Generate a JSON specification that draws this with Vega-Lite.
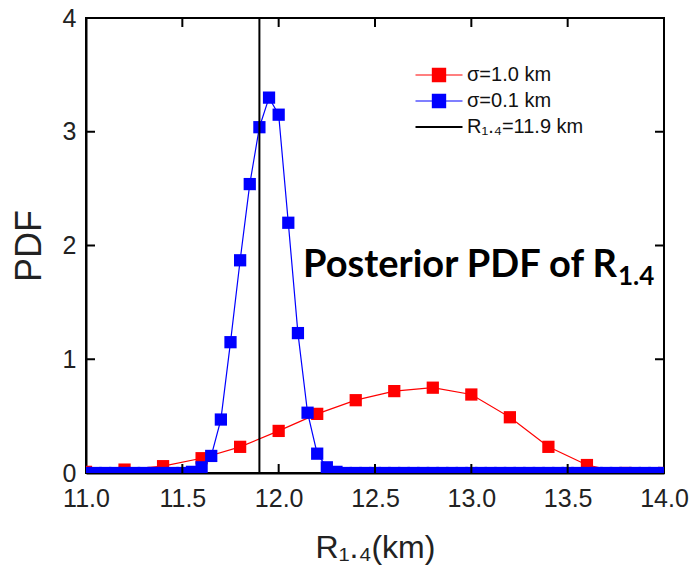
{
  "$schema": "https://vega.github.io/schema/vega-lite/v6.json",
  "width": 578,
  "height": 455,
  "autosize": {"type": "none"},
  "padding": {"left": 86, "top": 18, "right": 28, "bottom": 104},
  "background": "white",
  "config": {
    "font": "Liberation Sans",
    "view": {"stroke": "black", "strokeWidth": 2},
    "axis": {
      "grid": false,
      "ticks": false,
      "zindex": 2,
      "domainColor": "black",
      "domainWidth": 2,
      "labelColor": "#222222",
      "labelFontSize": 25,
      "labelFont": "Liberation Sans",
      "labelFlush": false,
      "titleFont": "Liberation Sans",
      "titleFontWeight": "normal",
      "titleColor": "#222222"
    },
    "axisX": {"labelPadding": 13, "titleFontSize": 32, "titlePadding": 21},
    "axisY": {"labelPadding": 10, "titleFontSize": 36, "titlePadding": 14},
    "legend": {
      "orient": "none",
      "legendX": 343,
      "legendY": 47,
      "title": null,
      "labelFontSize": 20,
      "labelFont": "Liberation Sans",
      "labelColor": "#111111",
      "symbolSize": 2209,
      "rowPadding": 6,
      "labelOffset": 18
    }
  },
  "datasets": {
    "red": [
      {"x": 11.0, "y": 0.01, "s": "σ=1.0 km"},
      {"x": 11.2, "y": 0.03, "s": "σ=1.0 km"},
      {"x": 11.4, "y": 0.06, "s": "σ=1.0 km"},
      {"x": 11.6, "y": 0.13, "s": "σ=1.0 km"},
      {"x": 11.8, "y": 0.23, "s": "σ=1.0 km"},
      {"x": 12.0, "y": 0.37, "s": "σ=1.0 km"},
      {"x": 12.2, "y": 0.52, "s": "σ=1.0 km"},
      {"x": 12.4, "y": 0.64, "s": "σ=1.0 km"},
      {"x": 12.6, "y": 0.72, "s": "σ=1.0 km"},
      {"x": 12.8, "y": 0.75, "s": "σ=1.0 km"},
      {"x": 13.0, "y": 0.69, "s": "σ=1.0 km"},
      {"x": 13.2, "y": 0.49, "s": "σ=1.0 km"},
      {"x": 13.4, "y": 0.23, "s": "σ=1.0 km"},
      {"x": 13.6, "y": 0.07, "s": "σ=1.0 km"},
      {"x": 13.8, "y": 0.0, "s": "σ=1.0 km"},
      {"x": 14.0, "y": 0.0, "s": "σ=1.0 km"}
    ],
    "blue": [
      {"x": 11.0, "y": 0, "s": "σ=0.1 km"},
      {"x": 11.05, "y": 0, "s": "σ=0.1 km"},
      {"x": 11.1, "y": 0, "s": "σ=0.1 km"},
      {"x": 11.15, "y": 0, "s": "σ=0.1 km"},
      {"x": 11.2, "y": 0, "s": "σ=0.1 km"},
      {"x": 11.25, "y": 0, "s": "σ=0.1 km"},
      {"x": 11.3, "y": 0, "s": "σ=0.1 km"},
      {"x": 11.35, "y": 0, "s": "σ=0.1 km"},
      {"x": 11.4, "y": 0, "s": "σ=0.1 km"},
      {"x": 11.45, "y": 0, "s": "σ=0.1 km"},
      {"x": 11.5, "y": 0, "s": "σ=0.1 km"},
      {"x": 11.55, "y": 0.01, "s": "σ=0.1 km"},
      {"x": 11.6, "y": 0.05, "s": "σ=0.1 km"},
      {"x": 11.65, "y": 0.15, "s": "σ=0.1 km"},
      {"x": 11.7, "y": 0.47, "s": "σ=0.1 km"},
      {"x": 11.75, "y": 1.15, "s": "σ=0.1 km"},
      {"x": 11.8, "y": 1.87, "s": "σ=0.1 km"},
      {"x": 11.85, "y": 2.54, "s": "σ=0.1 km"},
      {"x": 11.9, "y": 3.04, "s": "σ=0.1 km"},
      {"x": 11.95, "y": 3.3, "s": "σ=0.1 km"},
      {"x": 12.0, "y": 3.15, "s": "σ=0.1 km"},
      {"x": 12.05, "y": 2.2, "s": "σ=0.1 km"},
      {"x": 12.1, "y": 1.23, "s": "σ=0.1 km"},
      {"x": 12.15, "y": 0.53, "s": "σ=0.1 km"},
      {"x": 12.2, "y": 0.17, "s": "σ=0.1 km"},
      {"x": 12.25, "y": 0.05, "s": "σ=0.1 km"},
      {"x": 12.3, "y": 0.01, "s": "σ=0.1 km"},
      {"x": 12.35, "y": 0, "s": "σ=0.1 km"},
      {"x": 12.4, "y": 0, "s": "σ=0.1 km"},
      {"x": 12.45, "y": 0, "s": "σ=0.1 km"},
      {"x": 12.5, "y": 0, "s": "σ=0.1 km"},
      {"x": 12.55, "y": 0, "s": "σ=0.1 km"},
      {"x": 12.6, "y": 0, "s": "σ=0.1 km"},
      {"x": 12.65, "y": 0, "s": "σ=0.1 km"},
      {"x": 12.7, "y": 0, "s": "σ=0.1 km"},
      {"x": 12.75, "y": 0, "s": "σ=0.1 km"},
      {"x": 12.8, "y": 0, "s": "σ=0.1 km"},
      {"x": 12.85, "y": 0, "s": "σ=0.1 km"},
      {"x": 12.9, "y": 0, "s": "σ=0.1 km"},
      {"x": 12.95, "y": 0, "s": "σ=0.1 km"},
      {"x": 13.0, "y": 0, "s": "σ=0.1 km"},
      {"x": 13.05, "y": 0, "s": "σ=0.1 km"},
      {"x": 13.1, "y": 0, "s": "σ=0.1 km"},
      {"x": 13.15, "y": 0, "s": "σ=0.1 km"},
      {"x": 13.2, "y": 0, "s": "σ=0.1 km"},
      {"x": 13.25, "y": 0, "s": "σ=0.1 km"},
      {"x": 13.3, "y": 0, "s": "σ=0.1 km"},
      {"x": 13.35, "y": 0, "s": "σ=0.1 km"},
      {"x": 13.4, "y": 0, "s": "σ=0.1 km"},
      {"x": 13.45, "y": 0, "s": "σ=0.1 km"},
      {"x": 13.5, "y": 0, "s": "σ=0.1 km"},
      {"x": 13.55, "y": 0, "s": "σ=0.1 km"},
      {"x": 13.6, "y": 0, "s": "σ=0.1 km"},
      {"x": 13.65, "y": 0, "s": "σ=0.1 km"},
      {"x": 13.7, "y": 0, "s": "σ=0.1 km"},
      {"x": 13.75, "y": 0, "s": "σ=0.1 km"},
      {"x": 13.8, "y": 0, "s": "σ=0.1 km"},
      {"x": 13.85, "y": 0, "s": "σ=0.1 km"},
      {"x": 13.9, "y": 0, "s": "σ=0.1 km"},
      {"x": 13.95, "y": 0, "s": "σ=0.1 km"},
      {"x": 14.0, "y": 0, "s": "σ=0.1 km"}
    ],
    "ref": [{"x": 11.9, "s": "R₁.₄=11.9 km"}],
    "xticks": [
      {"x": 11.5, "y": 0}, {"x": 12.0, "y": 0}, {"x": 12.5, "y": 0}, {"x": 13.0, "y": 0}, {"x": 13.5, "y": 0},
      {"x": 11.5, "y": 4}, {"x": 12.0, "y": 4}, {"x": 12.5, "y": 4}, {"x": 13.0, "y": 4}, {"x": 13.5, "y": 4}
    ],
    "yticks": [
      {"x": 11, "y": 1}, {"x": 11, "y": 2}, {"x": 11, "y": 3},
      {"x": 14, "y": 1}, {"x": 14, "y": 2}, {"x": 14, "y": 3}
    ],
    "note": [{"x": 13.756, "y": 1.723, "t": "Posterior PDF of R", "sub": "1.4"}]
  },
  "layer": [
    {
      "data": {"name": "red"},
      "mark": {"type": "line", "strokeWidth": 1.2, "clip": true},
      "encoding": {
        "x": {"field": "x", "type": "quantitative", "title": "R₁.₄(km)", "scale": {"domain": [11, 14], "nice": false, "zero": false}, "axis": {"values": [11, 11.5, 12, 12.5, 13, 13.5, 14], "format": ".1f"}},
        "y": {"field": "y", "type": "quantitative", "title": "PDF", "scale": {"domain": [0, 4], "nice": false}, "axis": {"values": [0, 1, 2, 3, 4], "format": "d"}},
        "color": {
          "field": "s",
          "type": "nominal",
          "scale": {"domain": ["σ=1.0 km", "σ=0.1 km", "R₁.₄=11.9 km"], "range": ["#ff0000", "#0000ff", "#000000"]},
          "legend": {
            "encode": {
              "symbols": {
                "update": {
                  "shape": {"signal": "datum.value == 'R₁.₄=11.9 km' ? 'M-1,0H1' : 'M-1,0H1M-0.28,-0.28H0.28V0.28H-0.28Z'"},
                  "strokeWidth": {"signal": "datum.value == 'R₁.₄=11.9 km' ? 2 : 1.2"},
                  "size": {"value": 2209},
                  "fill": {"scale": "color", "field": "value"},
                  "stroke": {"scale": "color", "field": "value"},
                  "opacity": {"value": 1},
                  "fillOpacity": {"value": 1}
                }
              }
            }
          }
        }
      }
    },
    {
      "data": {"name": "red"},
      "mark": {"type": "point", "shape": "square", "filled": true, "size": 150, "opacity": 1, "clip": true},
      "encoding": {
        "x": {"field": "x", "type": "quantitative", "title": "R₁.₄(km)", "scale": {"domain": [11, 14], "nice": false, "zero": false}},
        "y": {"field": "y", "type": "quantitative", "title": "PDF", "scale": {"domain": [0, 4], "nice": false}},
        "color": {"field": "s", "type": "nominal", "scale": {"domain": ["σ=1.0 km", "σ=0.1 km", "R₁.₄=11.9 km"], "range": ["#ff0000", "#0000ff", "#000000"]}}
      }
    },
    {
      "data": {"name": "blue"},
      "mark": {"type": "line", "strokeWidth": 1.2, "clip": true},
      "encoding": {
        "x": {"field": "x", "type": "quantitative", "title": "R₁.₄(km)", "scale": {"domain": [11, 14], "nice": false, "zero": false}},
        "y": {"field": "y", "type": "quantitative", "title": "PDF", "scale": {"domain": [0, 4], "nice": false}},
        "color": {"field": "s", "type": "nominal", "scale": {"domain": ["σ=1.0 km", "σ=0.1 km", "R₁.₄=11.9 km"], "range": ["#ff0000", "#0000ff", "#000000"]}}
      }
    },
    {
      "data": {"name": "blue"},
      "mark": {"type": "point", "shape": "square", "filled": true, "size": 150, "opacity": 1, "clip": true},
      "encoding": {
        "x": {"field": "x", "type": "quantitative", "title": "R₁.₄(km)", "scale": {"domain": [11, 14], "nice": false, "zero": false}},
        "y": {"field": "y", "type": "quantitative", "title": "PDF", "scale": {"domain": [0, 4], "nice": false}},
        "color": {"field": "s", "type": "nominal", "scale": {"domain": ["σ=1.0 km", "σ=0.1 km", "R₁.₄=11.9 km"], "range": ["#ff0000", "#0000ff", "#000000"]}}
      }
    },
    {
      "data": {"name": "ref"},
      "mark": {"type": "rule", "strokeWidth": 2},
      "encoding": {
        "x": {"field": "x", "type": "quantitative", "title": "R₁.₄(km)", "scale": {"domain": [11, 14], "nice": false, "zero": false}},
        "color": {"field": "s", "type": "nominal", "scale": {"domain": ["σ=1.0 km", "σ=0.1 km", "R₁.₄=11.9 km"], "range": ["#ff0000", "#0000ff", "#000000"]}}
      }
    },
    {
      "data": {"name": "xticks"},
      "mark": {"type": "tick", "orient": "vertical", "size": 18, "thickness": 2, "clip": true, "opacity": 1, "color": "black"},
      "encoding": {
        "x": {"field": "x", "type": "quantitative", "title": "R₁.₄(km)", "scale": {"domain": [11, 14], "nice": false, "zero": false}},
        "y": {"field": "y", "type": "quantitative", "title": "PDF", "scale": {"domain": [0, 4], "nice": false}}
      }
    },
    {
      "data": {"name": "yticks"},
      "mark": {"type": "tick", "orient": "horizontal", "size": 18, "thickness": 2, "clip": true, "opacity": 1, "color": "black"},
      "encoding": {
        "x": {"field": "x", "type": "quantitative", "title": "R₁.₄(km)", "scale": {"domain": [11, 14], "nice": false, "zero": false}},
        "y": {"field": "y", "type": "quantitative", "title": "PDF", "scale": {"domain": [0, 4], "nice": false}}
      }
    },
    {
      "data": {"name": "note"},
      "mark": {"type": "text", "align": "right", "baseline": "alphabetic", "font": "Lato", "fontWeight": "bold", "fontSize": 38, "color": "black"},
      "encoding": {
        "x": {"field": "x", "type": "quantitative", "title": "R₁.₄(km)", "scale": {"domain": [11, 14], "nice": false, "zero": false}},
        "y": {"field": "y", "type": "quantitative", "title": "PDF", "scale": {"domain": [0, 4], "nice": false}},
        "text": {"field": "t"}
      }
    },
    {
      "data": {"name": "note"},
      "mark": {"type": "text", "align": "left", "baseline": "alphabetic", "font": "Lato", "fontWeight": "bold", "fontSize": 26, "dy": 8, "dx": 1, "color": "black"},
      "encoding": {
        "x": {"field": "x", "type": "quantitative", "title": "R₁.₄(km)", "scale": {"domain": [11, 14], "nice": false, "zero": false}},
        "y": {"field": "y", "type": "quantitative", "title": "PDF", "scale": {"domain": [0, 4], "nice": false}},
        "text": {"field": "sub"}
      }
    }
  ]
}
